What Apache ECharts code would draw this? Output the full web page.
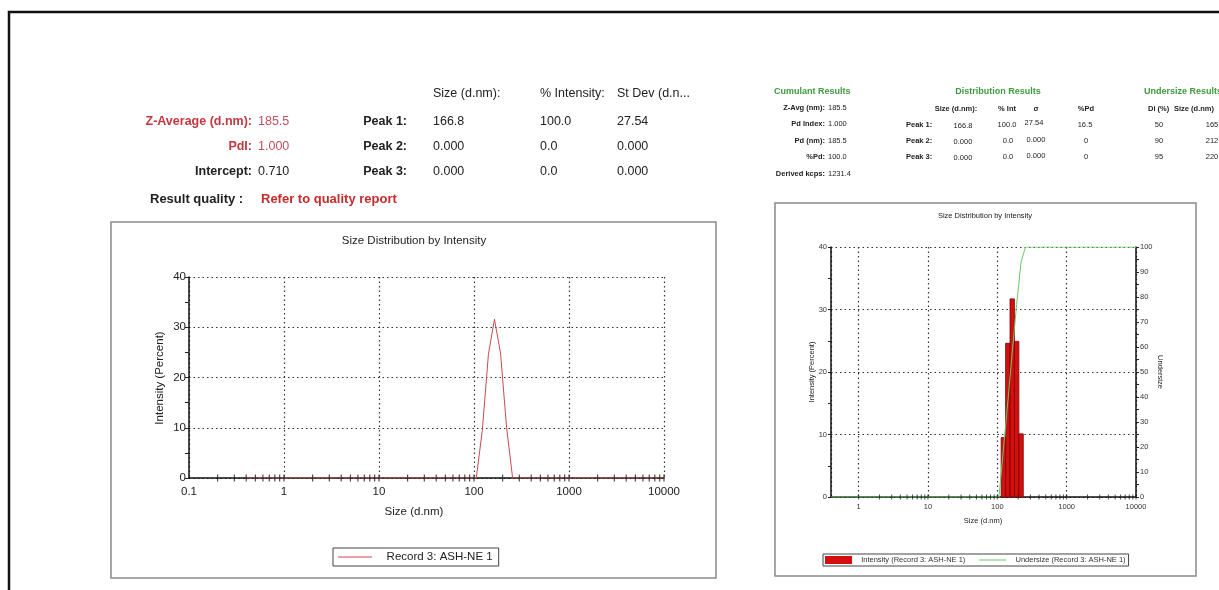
<!DOCTYPE html>
<html>
<head>
<meta charset="utf-8">
<script src="https://cdn.jsdelivr.net/npm/echarts@6/dist/echarts.min.js"></script>
<style>
  html, body { margin: 0; padding: 0; background: #fff; }
  #main { width: 1219px; height: 590px; }
</style>
</head>
<body>
<div id="main"></div>
<script>
// data
var binSizes = [105.7, 122.4, 141.8, 164.2, 190.1, 220.2, 255.0];
var intensityLine = [0, 9.5, 24.6, 31.6, 24.9, 10.1, 0];
var rangeEnds = [0.4, 10000];

var barSizes = [122.4, 141.8, 164.2, 190.1, 220.2];
var barValues = [9.5, 24.6, 31.7, 24.9, 10.1];

var undersizeSizes = [0.4, 105.7, 122.4, 141.8, 164.2, 190.1, 220.2, 255.0, 10000];
var undersizeValues = [0, 0, 19, 38, 58, 77, 94, 100, 100];

// tick marks along the log axes
var minorMult = [1, 2, 3, 4, 5, 6, 7, 8, 9];
var decadesLeft = [0.1, 1, 10, 100, 1000];
var decadesRight = [1, 10, 100, 1000];

var FONT = '"Liberation Sans", Arial, Helvetica, sans-serif';
var RED = '#c4373f';
var GREEN = '#3f9a3f';

function pairs(xs, ys) {
  return xs.map(function (x, i) { return [x, ys[i]]; });
}
function tickPoints(decades) {
  var out = [];
  decades.forEach(function (d) {
    minorMult.forEach(function (m) {
      var v = +(d * m).toPrecision(4);
      if (v > decades[0] || d > 0.5) out.push([v, 0]);
    });
  });
  out.push([10000, 0]);
  return out;
}
function logLabel(v) { return String(+Number(v).toPrecision(6)); }

var leftLine = [[rangeEnds[0], 0]].concat(pairs(binSizes, intensityLine), [[rangeEnds[1], 0]]);

// text helper
function txt(x, y, s, o) {
  o = o || {};
  return {
    type: 'text', x: x, y: y, rotation: o.rot || 0, z: 10,
    style: {
      text: s, fontSize: o.size || 12.5, fontWeight: o.bold ? 'bold' : 'normal',
      fontFamily: FONT, fill: o.color || '#222',
      align: o.align || 'left', verticalAlign: 'middle'
    }
  };
}

var graphics = [
  // outer border
  { type: 'rect', shape: { x: 9, y: 12, width: 1400, height: 700 }, style: { fill: null, stroke: '#111', lineWidth: 2.5 } },
  // chart frames
  { type: 'rect', shape: { x: 111, y: 222, width: 605, height: 356 }, style: { fill: null, stroke: '#8a8a8a', lineWidth: 1.5 } },
  { type: 'rect', shape: { x: 775, y: 203, width: 421, height: 373 }, style: { fill: null, stroke: '#8a8a8a', lineWidth: 1.5 } },

  // left results table
  txt(433, 94, 'Size (d.nm):'), txt(540, 94, '% Intensity:'), txt(617, 94, 'St Dev (d.n...'),
  txt(252, 122, 'Z-Average (d.nm):', { bold: true, color: RED, align: 'right' }),
  txt(258, 122, '185.5', { color: '#c0505e' }),
  txt(252, 147, 'PdI:', { bold: true, color: RED, align: 'right' }),
  txt(258, 147, '1.000', { color: '#c0505e' }),
  txt(252, 172, 'Intercept:', { bold: true, align: 'right' }),
  txt(258, 172, '0.710'),
  txt(407, 122, 'Peak 1:', { bold: true, align: 'right' }),
  txt(407, 147, 'Peak 2:', { bold: true, align: 'right' }),
  txt(407, 172, 'Peak 3:', { bold: true, align: 'right' }),
  txt(433, 122, '166.8'), txt(540, 122, '100.0'), txt(617, 122, '27.54'),
  txt(433, 147, '0.000'), txt(540, 147, '0.0'), txt(617, 147, '0.000'),
  txt(433, 172, '0.000'), txt(540, 172, '0.0'), txt(617, 172, '0.000'),
  txt(150, 199, 'Result quality :', { bold: true, size: 13 }),
  txt(261, 199, 'Refer to quality report', { bold: true, size: 13, color: '#c62b2b' }),

  // right: cumulant results
  txt(774, 92, 'Cumulant Results', { bold: true, size: 9, color: GREEN }),
  txt(825, 108, 'Z-Avg (nm):', { bold: true, size: 7.5, align: 'right' }), txt(828, 108, '185.5', { size: 7.5 }),
  txt(825, 124, 'Pd Index:', { bold: true, size: 7.5, align: 'right' }), txt(828, 124, '1.000', { size: 7.5 }),
  txt(825, 141, 'Pd (nm):', { bold: true, size: 7.5, align: 'right' }), txt(828, 141, '185.5', { size: 7.5 }),
  txt(825, 157, '%Pd:', { bold: true, size: 7.5, align: 'right' }), txt(828, 157, '100.0', { size: 7.5 }),
  txt(825, 174, 'Derived kcps:', { bold: true, size: 7.5, align: 'right' }), txt(828, 174, '1231.4', { size: 7.5 }),

  // right: distribution results
  txt(998, 92, 'Distribution Results', { bold: true, size: 9, color: GREEN, align: 'center' }),
  txt(956, 109, 'Size (d.nm):', { bold: true, size: 7.5, align: 'center' }),
  txt(1007, 109, '% Int', { bold: true, size: 7.5, align: 'center' }),
  txt(1036, 109, 'σ', { bold: true, size: 7.5, align: 'center' }),
  txt(1086, 109, '%Pd', { bold: true, size: 7.5, align: 'center' }),
  txt(906, 125, 'Peak 1:', { bold: true, size: 7.5 }),
  txt(906, 141, 'Peak 2:', { bold: true, size: 7.5 }),
  txt(906, 157, 'Peak 3:', { bold: true, size: 7.5 }),
  txt(963, 126, '166.8', { size: 7.5, align: 'center' }), txt(1007, 125, '100.0', { size: 7.5, align: 'center' }),
  txt(1034, 123, '27.54', { size: 7.5, align: 'center' }), txt(1085, 125, '16.5', { size: 7.5, align: 'center' }),
  txt(963, 142, '0.000', { size: 7.5, align: 'center' }), txt(1008, 141, '0.0', { size: 7.5, align: 'center' }),
  txt(1036, 140, '0.000', { size: 7.5, align: 'center' }), txt(1086, 141, '0', { size: 7.5, align: 'center' }),
  txt(963, 158, '0.000', { size: 7.5, align: 'center' }), txt(1008, 157, '0.0', { size: 7.5, align: 'center' }),
  txt(1036, 156, '0.000', { size: 7.5, align: 'center' }), txt(1086, 157, '0', { size: 7.5, align: 'center' }),

  // right: undersize results (cut off at the page edge)
  txt(1144, 92, 'Undersize Results', { bold: true, size: 9, color: GREEN }),
  txt(1148, 109, 'Di (%)', { bold: true, size: 7.5 }),
  txt(1174, 109, 'Size (d.nm)', { bold: true, size: 7.5 }),
  txt(1159, 125, '50', { size: 7.5, align: 'center' }), txt(1212, 125, '165', { size: 7.5, align: 'center' }),
  txt(1159, 141, '90', { size: 7.5, align: 'center' }), txt(1212, 141, '212', { size: 7.5, align: 'center' }),
  txt(1159, 157, '95', { size: 7.5, align: 'center' }), txt(1212, 157, '220', { size: 7.5, align: 'center' }),

  // chart titles and axis names
  txt(414, 241, 'Size Distribution by Intensity', { size: 11.5, align: 'center' }),
  txt(160, 378, 'Intensity (Percent)', { size: 11.5, align: 'center', rot: Math.PI / 2 }),
  txt(414, 512, 'Size (d.nm)', { size: 11.5, align: 'center' }),
  txt(985, 216, 'Size Distribution by Intensity', { size: 7.5, align: 'center' }),
  txt(812, 372, 'Intensity (Percent)', { size: 7.5, align: 'center', rot: Math.PI / 2 }),
  txt(1160, 372, 'Undersize', { size: 7.5, align: 'center', rot: -Math.PI / 2 }),
  txt(983, 521, 'Size (d.nm)', { size: 7.5, align: 'center' })
];

var dotted = { type: [1.5, 3], color: '#333', width: 1.2 };
var black = { color: '#111', width: 1.5 };

var chart = echarts.init(document.getElementById('main'));

var option = {
  backgroundColor: '#fff',
  animation: false,
  textStyle: { fontFamily: FONT },
  graphic: graphics,
  grid: [
    { left: 189, top: 277, width: 475, height: 201 },
    { left: 831, top: 247, width: 305, height: 250 }
  ],
  legend: [
    {
      data: [{ name: 'Record 3: ASH-NE 1', icon: 'path://M0,0 L34,0 L34,1 L0,1 Z' }],
      left: 333, top: 548, padding: [3, 6, 3, 5],
      itemWidth: 34, itemHeight: 10,
      formatter: function (n) { return '   ' + n; },
      textStyle: { fontSize: 11.5, color: '#222', fontFamily: FONT },
      borderColor: '#444', borderWidth: 1, selectedMode: false
    },
    {
      data: [
        { name: 'Intensity (Record 3: ASH-NE 1)', icon: 'rect' },
        { name: 'Undersize (Record 3: ASH-NE 1)', icon: 'path://M0,0 L27,0 L27,1 L0,1 Z' }
      ],
      left: 823, top: 554, padding: [2, 3, 2, 2],
      itemWidth: 27, itemHeight: 8, itemGap: 14,
      formatter: function (n) { return '  ' + n; },
      textStyle: { fontSize: 7.5, color: '#333', fontFamily: FONT },
      borderColor: '#444', borderWidth: 1, selectedMode: false
    }
  ],
  xAxis: [
    {
      type: 'log', logBase: 10, gridIndex: 0, min: 0.1, max: 10000,
      axisLine: { onZero: false, lineStyle: black },
      axisTick: { show: false },
      axisLabel: { fontSize: 11.5, color: '#222', margin: 8, formatter: logLabel },
      splitLine: { show: true, lineStyle: dotted }
    },
    {
      type: 'log', logBase: 10, gridIndex: 1, min: 0.4, max: 10000,
      axisLine: { onZero: false, lineStyle: black },
      axisTick: { show: false },
      axisLabel: { fontSize: 7.5, color: '#333', margin: 6, showMinLabel: false, formatter: logLabel },
      splitLine: { show: true, lineStyle: dotted }
    }
  ],
  yAxis: [
    {
      type: 'value', gridIndex: 0, min: 0, max: 40, interval: 10,
      axisLine: { show: true, lineStyle: black },
      axisTick: { show: true, length: 4, lineStyle: { color: '#222' } },
      minorTick: { show: true, splitNumber: 2, length: 4, lineStyle: { color: '#222' } },
      axisLabel: { fontSize: 11.5, color: '#222', margin: 3 },
      splitLine: { show: true, lineStyle: dotted }
    },
    {
      type: 'value', gridIndex: 1, min: 0, max: 40, interval: 10,
      axisLine: { show: true, lineStyle: black },
      axisTick: { show: true, length: 3, lineStyle: { color: '#222' } },
      minorTick: { show: true, splitNumber: 2, length: 3, lineStyle: { color: '#222' } },
      axisLabel: { fontSize: 7.5, color: '#333', margin: 4 },
      splitLine: { show: true, lineStyle: dotted }
    },
    {
      type: 'value', gridIndex: 1, position: 'right', min: 0, max: 100, interval: 10,
      axisLine: { show: true, lineStyle: black },
      axisTick: { show: true, length: 3, lineStyle: { color: '#222' } },
      minorTick: { show: true, splitNumber: 2, length: 3, lineStyle: { color: '#222' } },
      axisLabel: { fontSize: 7.5, color: '#333', margin: 4 },
      splitLine: { show: false }
    }
  ],
  series: [
    {
      name: 'Record 3: ASH-NE 1', type: 'line', xAxisIndex: 0, yAxisIndex: 0,
      data: leftLine, symbol: 'none', z: 4,
      lineStyle: { color: '#d0484f', width: 1 }, itemStyle: { color: '#d0484f' }
    },
    {
      name: 'ticksLeft', type: 'scatter', xAxisIndex: 0, yAxisIndex: 0, silent: true, z: 6,
      data: tickPoints(decadesLeft), symbol: 'rect', symbolSize: [1.2, 7],
      itemStyle: { color: '#222' }, clip: false
    },
    {
      name: 'Intensity (Record 3: ASH-NE 1)', type: 'custom', xAxisIndex: 1, yAxisIndex: 1, z: 3,
      data: pairs(barSizes, barValues),
      itemStyle: { color: '#d40f0f' },
      renderItem: function (params, api) {
        var half = Math.sqrt(1.1585);
        var c = api.value(0), v = api.value(1);
        var p0 = api.coord([c / half, 0]);
        var p1 = api.coord([c * half, v]);
        return {
          type: 'rect',
          shape: { x: p0[0], y: p1[1], width: p1[0] - p0[0], height: p0[1] - p1[1] },
          style: { fill: '#d40f0f', stroke: '#7a0000', lineWidth: 0.8 }
        };
      }
    },
    {
      name: 'Undersize (Record 3: ASH-NE 1)', type: 'line', xAxisIndex: 1, yAxisIndex: 2,
      data: pairs(undersizeSizes, undersizeValues), symbol: 'none', z: 5,
      lineStyle: { color: '#66cc66', width: 1 }, itemStyle: { color: '#66cc66' }
    },
    {
      name: 'ticksRight', type: 'scatter', xAxisIndex: 1, yAxisIndex: 1, silent: true, z: 6,
      data: tickPoints(decadesRight), symbol: 'rect', symbolSize: [1, 5],
      itemStyle: { color: '#222' }, clip: false
    }
  ]
};

chart.setOption(option);
</script>
</body>
</html>
